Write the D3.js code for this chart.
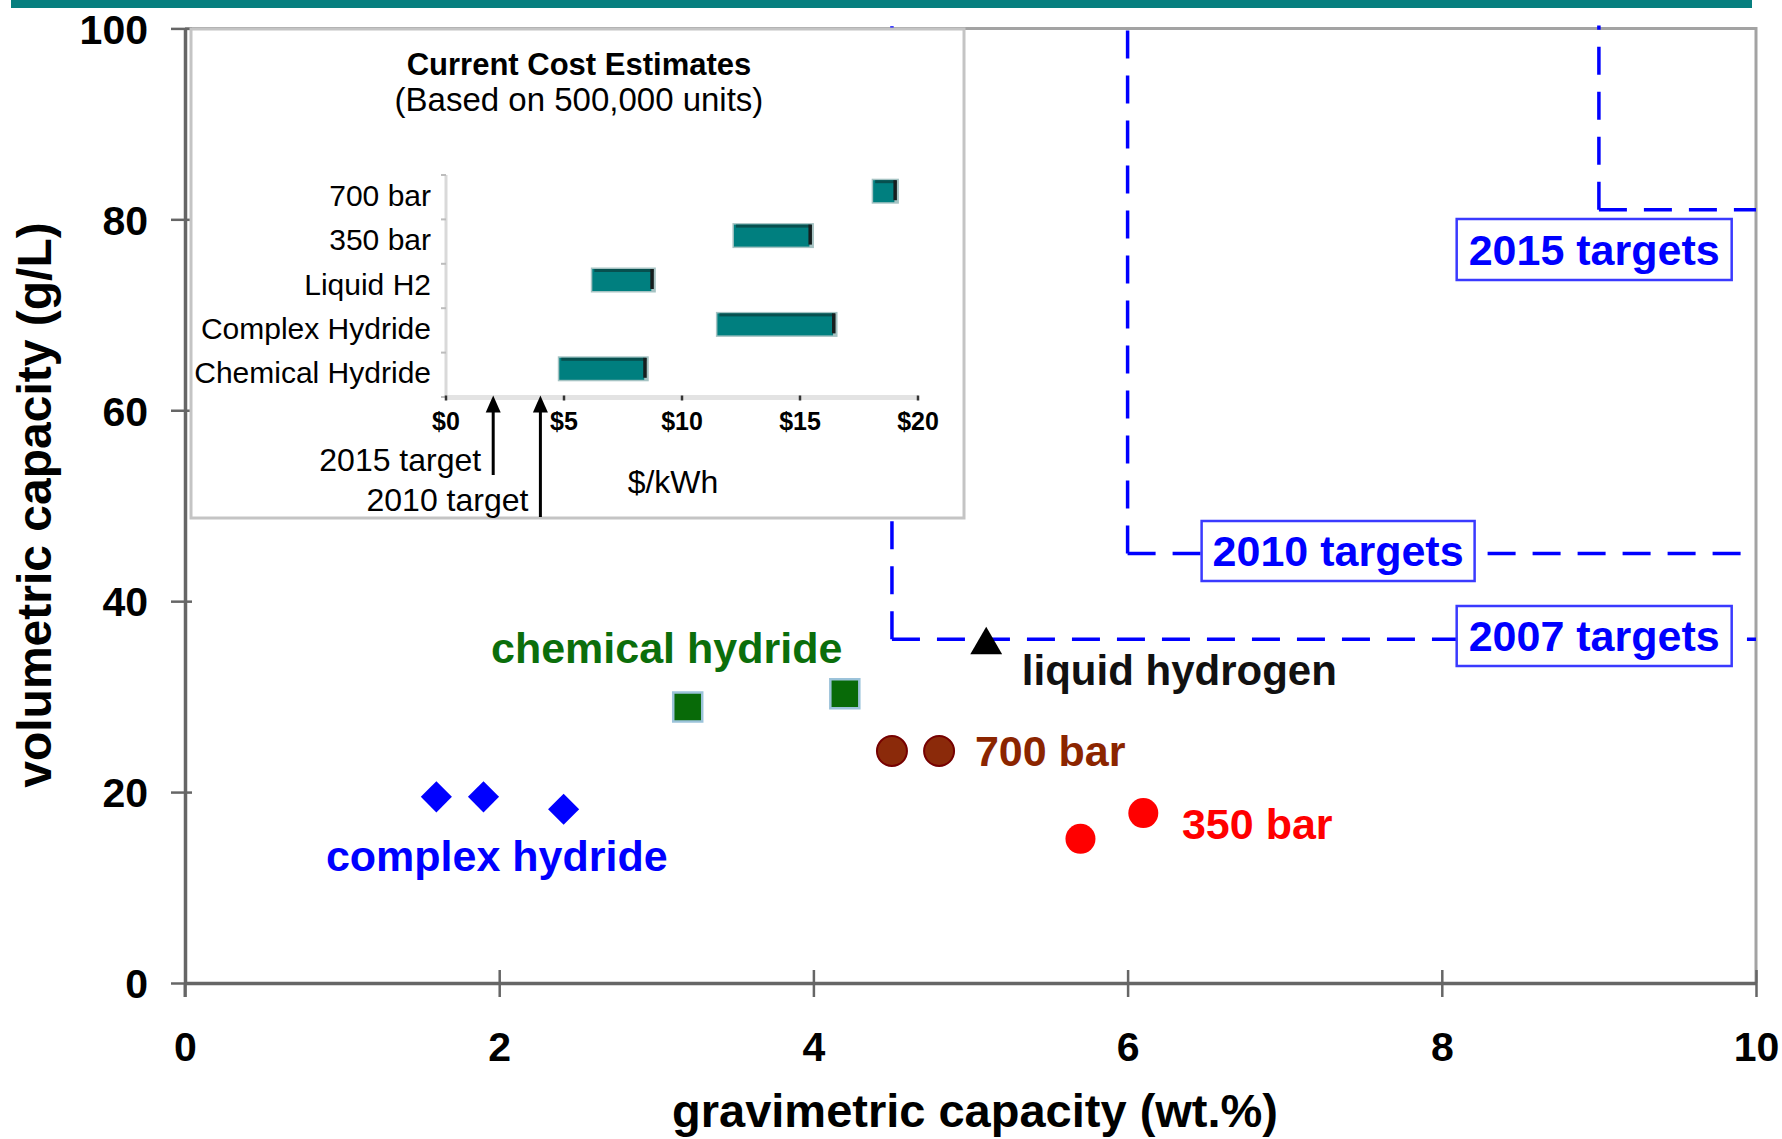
<!DOCTYPE html>
<html><head><meta charset="utf-8">
<script src="https://cdn.jsdelivr.net/npm/d3@7"></script>
<style>
html,body{margin:0;padding:0;background:#fff;}
svg{display:block;font-family:"Liberation Sans",Arial,Helvetica,sans-serif;}
</style>
</head><body>
<svg id="chart" width="1782" height="1139"></svg>
<script>
// ---------------- DATA ----------------
const xTicks = [0, 2, 4, 6, 8, 10];
const yTicks = [0, 20, 40, 60, 80, 100];
const complexHydride = [[1.6, 19.5], [1.9, 19.5], [2.41, 18.2]];
const chemicalHydride = [[3.2, 28.9], [4.2, 30.3]];
const bar700 = [[4.5, 24.3], [4.8, 24.3]];
const bar350 = [[5.7, 15.1], [6.1, 17.8]];
const liquidHydrogen = [[5.1, 35.4]];
const targetNames = ["2007 targets", "2010 targets", "2015 targets"];
const targetGrav = [4.5, 6, 9];
const targetVol = [36, 45, 81];
const costCategories = ["700 bar", "350 bar", "Liquid H2", "Complex Hydride", "Chemical Hydride"];
const costLow = [18.1, 12.2, 6.2, 11.5, 4.8];
const costHigh = [19.0, 15.4, 8.7, 16.4, 8.4];
const costTicks = [0, 5, 10, 15, 20];
const costTickLabels = ["$0", "$5", "$10", "$15", "$20"];
const costTargetNames = ["2015 target", "2010 target"];
const costTargetValues = [2, 4];

// ---------------- LAYOUT ----------------
const svg = d3.select("#chart");
const x = d3.scaleLinear().domain([0, 10]).range([185, 1756]);
const y = d3.scaleLinear().domain([0, 100]).range([983, 28.4]);

const BLUE = "#0000ff";
// teal header band
svg.append("rect").attr("x", 11).attr("y", 0).attr("width", 1741).attr("height", 8).attr("fill", "#077f7f");

// frame (top & right)
svg.append("path")
  .attr("d", `M${x(0)},${y(100)}H${x(10)}V${y(0)}`)
  .attr("fill", "none").attr("stroke", "#a3a3a3").attr("stroke-width", 3);

// ---------------- TARGET LINES ----------------
const tg = svg.append("g");
targetNames.forEach((n, i) => {
  const cxp = x(targetGrav[i]), cyp = y(targetVol[i]);
  tg.append("path").attr("d", `M${cxp},${cyp}V${y(100) - 3}`)
    .attr("fill", "none").attr("stroke", BLUE).attr("stroke-width", 3.5).attr("stroke-dasharray", "28,17");
  tg.append("path").attr("d", `M${cxp},${cyp}H${x(10)}`)
    .attr("fill", "none").attr("stroke", BLUE).attr("stroke-width", 3.5).attr("stroke-dasharray", "28,17");
});

// ---------------- AXES ----------------
const axStroke = "#666";
const gx = svg.append("g").attr("transform", `translate(0,${y(0)})`)
  .call(d3.axisBottom(x).tickValues(xTicks).tickSize(14).tickSizeOuter(0).tickFormat(d3.format("d")));
gx.select(".domain").attr("stroke", axStroke).attr("stroke-width", 3.5);
gx.selectAll(".tick line").attr("y1", -13).attr("stroke", axStroke).attr("stroke-width", 2.5);
gx.selectAll(".tick text").attr("y", 78).attr("dy", null)
  .attr("font-size", 41).attr("font-weight", "bold").attr("fill", "#000")
  .attr("font-family", "Liberation Sans, Arial, sans-serif");

const gy = svg.append("g").attr("transform", `translate(${x(0)},0)`)
  .call(d3.axisLeft(y).tickValues(yTicks).tickSize(14).tickSizeOuter(0).tickFormat(d3.format("d")));
gy.select(".domain").attr("stroke", axStroke).attr("stroke-width", 3.5);
gy.selectAll(".tick line").attr("x1", 7).attr("stroke", axStroke).attr("stroke-width", 2.5);
gy.selectAll(".tick text").attr("x", -37).attr("dy", "0.36em")
  .attr("font-size", 41).attr("font-weight", "bold").attr("fill", "#000")
  .attr("font-family", "Liberation Sans, Arial, sans-serif");
// extend y-axis below the origin (tick at 0)
svg.append("line").attr("x1", x(0)).attr("x2", x(0)).attr("y1", y(0)).attr("y2", y(0) + 14)
  .attr("stroke", axStroke).attr("stroke-width", 3);

// axis titles
svg.append("text").attr("x", 975).attr("y", 1127).attr("text-anchor", "middle")
  .attr("font-size", 47).attr("font-weight", "bold").attr("fill", "#000")
  .text("gravimetric capacity (wt.%)");
svg.append("text").attr("transform", "translate(51,505) rotate(-90)").attr("text-anchor", "middle")
  .attr("font-size", 48).attr("font-weight", "bold").attr("fill", "#000")
  .text("volumetric capacity (g/L)");

// ---------------- INSET ----------------
const inset = svg.append("g");
inset.append("rect").attr("x", 191).attr("y", 29).attr("width", 773).attr("height", 489)
  .attr("fill", "#fff").attr("stroke", "#c4c4c4").attr("stroke-width", 3);

const cx = d3.scaleLinear().domain([0, 20]).range([446, 918]);
const cy = d3.scaleBand().domain(costCategories).range([169, 391]);

inset.append("text").attr("x", 579).attr("y", 75).attr("text-anchor", "middle")
  .attr("font-size", 31).attr("font-weight", "bold").attr("fill", "#000").text("Current Cost Estimates");
inset.append("text").attr("x", 579).attr("y", 111).attr("text-anchor", "middle")
  .attr("font-size", 33).attr("fill", "#000").text("(Based on 500,000 units)");

// inset y axis
inset.append("line").attr("x1", cx(0)).attr("x2", cx(0)).attr("y1", cy.range()[0] + 6).attr("y2", cy.range()[1] + 6)
  .attr("stroke", "#d9d9d9").attr("stroke-width", 3);
d3.range(costCategories.length + 1).forEach(i => {
  const yy = cy.range()[0] + 6 + i * cy.step();
  inset.append("line").attr("x1", cx(0) - 5).attr("x2", cx(0)).attr("y1", yy).attr("y2", yy)
    .attr("stroke", "#bdbdbd").attr("stroke-width", 2);
});
// inset x axis
const axY = cy.range()[1] + 6.5;
inset.append("line").attr("x1", cx(0)).attr("x2", cx(20)).attr("y1", axY).attr("y2", axY)
  .attr("stroke", "#e3e3e3").attr("stroke-width", 5);
costTicks.forEach((t, i) => {
  inset.append("line").attr("x1", cx(t)).attr("x2", cx(t)).attr("y1", axY - 2).attr("y2", axY + 3)
    .attr("stroke", "#333").attr("stroke-width", 2.5);
  inset.append("text").attr("x", cx(t)).attr("y", axY + 32).attr("text-anchor", "middle")
    .attr("font-size", 25).attr("font-weight", "bold").attr("fill", "#000").text(costTickLabels[i]);
});

// category labels
costCategories.forEach(c => {
  inset.append("text").attr("x", 431).attr("y", cy(c) + cy.bandwidth() / 2 + 14.5)
    .attr("text-anchor", "end").attr("font-size", 30).attr("fill", "#000").text(c);
});

// bars with 3D look
costCategories.forEach((c, i) => {
  const x0 = cx(costLow[i]), x1 = cx(costHigh[i]);
  const yc = cy(c) + cy.bandwidth() / 2;
  const h = 22;
  inset.append("rect").attr("x", x0 - 1.5).attr("y", yc - h / 2 - 1.5).attr("width", x1 - x0 + 6).attr("height", h + 3)
    .attr("fill", "#a6c3c3");
  inset.append("rect").attr("x", x0).attr("y", yc - h / 2).attr("width", x1 - x0).attr("height", h)
    .attr("fill", "#007f7f");
  inset.append("rect").attr("x", x0 + 2).attr("y", yc - h / 2).attr("width", x1 - x0).attr("height", 3)
    .attr("fill", "#07504f");
  inset.append("rect").attr("x", x1 - 1).attr("y", yc - h / 2).attr("width", 3.5).attr("height", h - 2)
    .attr("fill", "#161e1e");
});

// cost target arrows
const arrowBottoms = [475, 517];
costTargetNames.forEach((n, i) => {
  const ax = cx(costTargetValues[i]);
  inset.append("line").attr("x1", ax).attr("x2", ax).attr("y1", arrowBottoms[i]).attr("y2", axY + 12)
    .attr("stroke", "#000").attr("stroke-width", 3);
  inset.append("path").attr("d", `M${ax},${axY - 2}L${ax - 7.5},${axY + 15}L${ax + 7.5},${axY + 15}Z`).attr("fill", "#000");
  inset.append("text").attr("x", ax - 12).attr("y", arrowBottoms[i] - 4 - (i === 0 ? 0 : 2))
    .attr("text-anchor", "end").attr("font-size", 32).attr("fill", "#000").text(n);
});
inset.append("text").attr("x", 673).attr("y", 493).attr("text-anchor", "middle")
  .attr("font-size", 32).attr("fill", "#000").text("$/kWh");

// ---------------- TARGET LABEL BOXES ----------------
const boxLayout = [
  {cx: x(8.97), cy: 636, w: 275, h: 60},
  {cx: x(7.34), cy: 551, w: 273, h: 60},
  {cx: x(8.97), cy: 249.5, w: 275, h: 61}
];
targetNames.forEach((n, i) => {
  const b = boxLayout[i];
  svg.append("rect").attr("x", b.cx - b.w / 2).attr("y", b.cy - b.h / 2).attr("width", b.w).attr("height", b.h)
    .attr("fill", "#fff").attr("stroke", "#3a3aff").attr("stroke-width", 2.5);
  svg.append("text").attr("x", b.cx).attr("y", b.cy + 15).attr("text-anchor", "middle")
    .attr("font-size", 43).attr("font-weight", "bold").attr("fill", BLUE).text(n);
});

// ---------------- MARKERS ----------------
const mk = svg.append("g");
mk.selectAll(".dia").data(complexHydride).join("path")
  .attr("d", d3.symbol(d3.symbolSquare, 484)())
  .attr("transform", d => `translate(${x(d[0])},${y(d[1])}) rotate(45)`)
  .attr("fill", BLUE);
mk.selectAll(".sq").data(chemicalHydride).join("path")
  .attr("d", d3.symbol(d3.symbolSquare, 841)())
  .attr("transform", d => `translate(${x(d[0])},${y(d[1])})`)
  .attr("fill", "#086a08").attr("stroke", "#9cc3da").attr("stroke-width", 2.5);
mk.selectAll(".c7").data(bar700).join("circle")
  .attr("cx", d => x(d[0])).attr("cy", d => y(d[1])).attr("r", 15)
  .attr("fill", "#8b2a0a").attr("stroke", "#760000").attr("stroke-width", 2);
mk.selectAll(".c3").data(bar350).join("circle")
  .attr("cx", d => x(d[0])).attr("cy", d => y(d[1])).attr("r", 15)
  .attr("fill", "#ff0000");
mk.selectAll(".tri").data(liquidHydrogen).join("path")
  .attr("d", d3.symbol(d3.symbolTriangle, 440)())
  .attr("transform", d => `translate(${x(d[0])},${y(d[1])})`)
  .attr("fill", "#000");

// ---------------- SERIES LABELS ----------------
const lbl = (t, dx, dy, col, fs) => svg.append("text").attr("x", x(dx)).attr("y", y(dy))
  .attr("font-size", fs).attr("font-weight", "bold").attr("fill", col).text(t);
lbl("chemical hydride", 1.948, 33.52, "#0b6e0b", 43);
lbl("complex hydride", 0.897, 11.73, BLUE, 43);
lbl("liquid hydrogen", 5.327, 31.22, "#111", 42);
lbl("700 bar", 5.028, 22.73, "#8b2500", 43);
lbl("350 bar", 6.346, 15.08, "#ff0000", 43);
</script>
</body></html>
